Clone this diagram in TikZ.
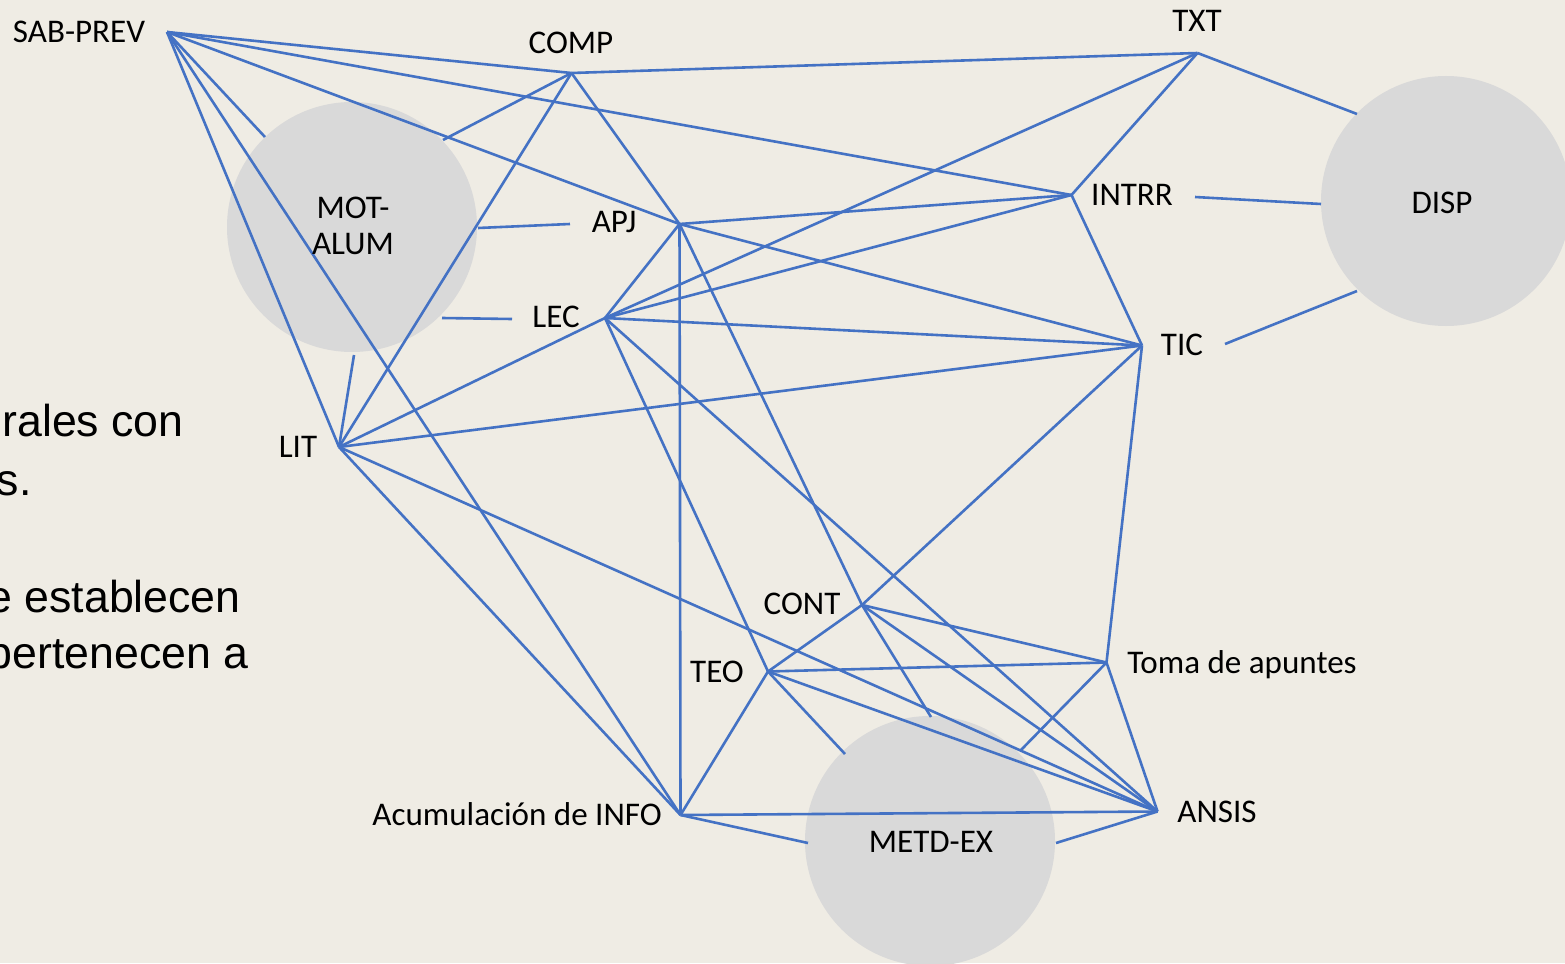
\documentclass[tikz,border=0pt]{standalone}
\usepackage{fontspec}
\setmainfont{Carlito}
\newfontfamily\slidefont{Liberation Sans}
\definecolor{bgcol}{RGB}{239,236,228}
\definecolor{discgray}{RGB}{217,217,217}
\definecolor{edgeblue}{RGB}{68,114,196}
\begin{document}
\begin{tikzpicture}[x=0.75pt,y=-0.75pt,
  link/.style={draw=edgeblue,line width=1.95pt},
  discnode/.style={circle,fill=discgray,inner sep=0pt,minimum size=187.5pt},
  lab/.style={font=\fontsize{24.8}{30}\selectfont,anchor=base,inner sep=0pt},
  slide/.style={font=\slidefont\fontsize{33.5}{40}\selectfont,anchor=base east,inner sep=0pt}]
\fill[bgcol] (0,0) rectangle (1565,963);
\useasboundingbox (0,0) rectangle (1565,963);
\clip (0,0) rectangle (1565,963);
% discs
\node[discnode] (mot) at (352,227) {};
\node[discnode] (metd) at (930,841) {};
\node[discnode] (disp) at (1446,201) {};
% hubs
\coordinate (sab) at (167,32);
\coordinate (comp) at (571.5,73);
\coordinate (txt) at (1197.5,53);
\coordinate (intrr) at (1071.5,195);
\coordinate (apj) at (679.5,224);
\coordinate (lec) at (605,318);
\coordinate (tic) at (1142,345.5);
\coordinate (lit) at (339,447);
\coordinate (cont) at (862,605);
\coordinate (teo) at (768,671.5);
\coordinate (toma) at (1106.5,662.5);
\coordinate (info) at (680.5,815);
\coordinate (ansis) at (1157.5,811.5);
% stub ends
\coordinate (motA) at (265,137);
\coordinate (motB) at (443,140);
\coordinate (motC) at (478,228);
\coordinate (motD) at (442,318);
\coordinate (motE) at (354,355);
\coordinate (apjS) at (570,224);
\coordinate (lecS) at (512,319);
\coordinate (dispA) at (1357,114);
\coordinate (dispB) at (1321,204);
\coordinate (dispC) at (1357,291);
\coordinate (intrrS) at (1195,197);
\coordinate (ticS) at (1225,344);
\coordinate (metA) at (931,717);
\coordinate (metB) at (845,754);
\coordinate (metC) at (1020,751);
\coordinate (metD) at (808,843);
\coordinate (metE) at (1056,843);
% connectors
\draw[link] (sab) -- (comp);
\draw[link] (sab) -- (intrr);
\draw[link] (sab) -- (apj);
\draw[link] (sab) -- (motA);
\draw[link] (sab) -- (lit);
\draw[link] (sab) -- (info);
\draw[link] (comp) -- (txt);
\draw[link] (comp) -- (motB);
\draw[link] (comp) -- (lit);
\draw[link] (comp) -- (apj);
\draw[link] (txt) -- (lec);
\draw[link] (txt) -- (intrr);
\draw[link] (txt) -- (dispA);
\draw[link] (intrr) -- (apj);
\draw[link] (intrr) -- (lec);
\draw[link] (intrr) -- (tic);
\draw[link] (intrrS) -- (dispB);
\draw[link] (apj) -- (tic);
\draw[link] (apj) -- (lec);
\draw[link] (apj) -- (info);
\draw[link] (apjS) -- (motC);
\draw[link] (apj) -- (cont);
\draw[link] (lec) -- (tic);
\draw[link] (lec) -- (lit);
\draw[link] (lecS) -- (motD);
\draw[link] (lec) -- (teo);
\draw[link] (lec) -- (ansis);
\draw[link] (tic) -- (lit);
\draw[link] (tic) -- (cont);
\draw[link] (tic) -- (toma);
\draw[link] (ticS) -- (dispC);
\draw[link] (lit) -- (motE);
\draw[link] (lit) -- (info);
\draw[link] (lit) -- (ansis);
\draw[link] (cont) -- (teo);
\draw[link] (cont) -- (toma);
\draw[link] (cont) -- (ansis);
\draw[link] (cont) -- (metA);
\draw[link] (teo) -- (toma);
\draw[link] (teo) -- (ansis);
\draw[link] (teo) -- (info);
\draw[link] (teo) -- (metB);
\draw[link] (toma) -- (ansis);
\draw[link] (toma) -- (metC);
\draw[link] (info) -- (ansis);
\draw[link] (info) -- (metD);
\draw[link] (ansis) -- (metE);
% labels
\node[lab] (lsab) at (79,43) {SAB-PREV};
\node[lab] (lcomp) at (571,54) {COMP};
\node[lab] (ltxt) at (1197,32) {TXT};
\node[lab] (lmot1) at (353,218) {MOT-};
\node[lab] (lmot2) at (353,254) {ALUM};
\node[lab] (lapj) at (614,232) {APJ};
\node[lab] (llec) at (556,327) {LEC};
\node[lab] (llit) at (298,457) {LIT};
\node[lab] (lintrr) at (1132,205) {INTRR};
\node[lab] (ldisp) at (1442,213) {DISP};
\node[lab] (ltic) at (1182,355) {TIC};
\node[lab] (lcont) at (802,614) {CONT};
\node[lab] (lteo) at (717,682) {TEO};
\node[lab,anchor=base west] (ltoma) at (1127,673) {Toma de apuntes};
\node[lab,anchor=base east] (linfo) at (662,825) {Acumulación de INFO};
\node[lab] (lansis) at (1217,822) {ANSIS};
\node[lab] (lmetd) at (931,852) {METD-EX};
% clipped slide text
\node[slide] (s1) at (184,436) {rales con};
\node[slide] (s2) at (32,495) {s.};
\node[slide] (s3) at (241,612) {e establecen};
\node[slide] (s4) at (249,668) {pertenecen a};
\end{tikzpicture}
\end{document}
